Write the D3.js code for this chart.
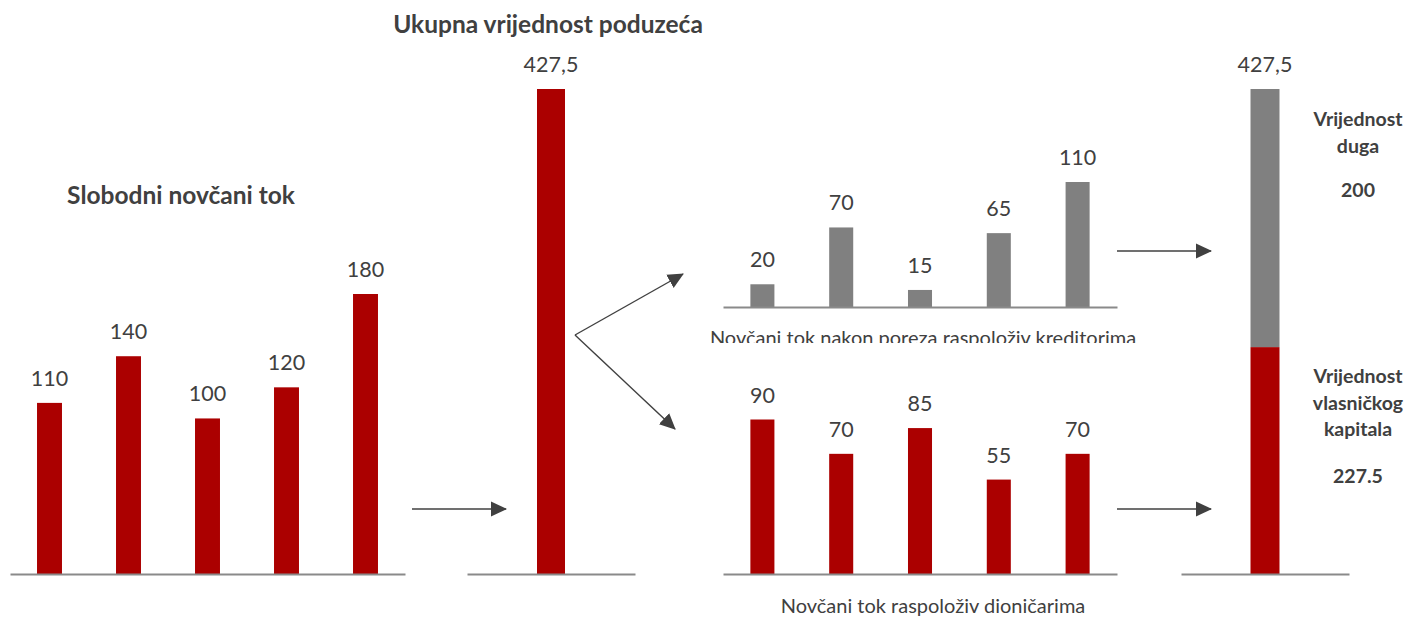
<!DOCTYPE html>
<html>
<head>
<meta charset="utf-8">
<script src="https://cdn.jsdelivr.net/npm/d3@7"></script>
<style>
  body { margin: 0; background: #fff; }
  svg { display: block; font-family: Lato, "Open Sans", sans-serif; }
  .val { font-size: 21.5px; fill: #404040; text-anchor: middle; }
  .title { font-size: 24.5px; font-weight: bold; fill: #404040; text-anchor: middle; }
  .cap { font-size: 20px; fill: #404040; text-anchor: middle; }
  .side { font-size: 19.5px; font-weight: bold; fill: #404040; text-anchor: middle; }
  .axis path { stroke: #8a8a8a; stroke-width: 2; }
</style>
</head>
<body>
<div id="chart"></div>
<script>
// data
const fcfValues = [110, 140, 100, 120, 180];
const firmValue = [427.5];
const firmLabel = ["427,5"];
const creditorFlows = [20, 70, 15, 65, 110];
const equityFlows = [90, 70, 85, 55, 70];
const stackKeys = ["red", "grey"];          // bottom to top, as drawn
const stackRow = [{red: 200, grey: 227.5}];
const stackLabel = "427,5";
const debtText = ["Vrijednost", "duga"];
const debtNumber = "200";
const equityText = ["Vrijednost", "vlasničkog", "kapitala"];
const equityNumber = "227.5";

const RED = "#ab0000", GREY = "#808080", INK = "#404040";

const svg = d3.select("#chart").append("svg")
    .attr("width", 1410)
    .attr("height", 617);

const defs = svg.append("defs");
defs.append("marker")
    .attr("id", "head")
    .attr("viewBox", "0 0 16 16")
    .attr("refX", 15).attr("refY", 8)
    .attr("markerWidth", 16).attr("markerHeight", 16)
    .attr("markerUnits", "userSpaceOnUse")
    .attr("orient", "auto")
  .append("path")
    .attr("d", "M0,0.5L16,8L0,15.5Z")
    .attr("fill", INK);

// one small bar chart: values, x range, baseline, y top for max value
function barPanel(values, labels, x0, x1, base, top, maxV, color, pad, outer) {
    let g = svg.append("g");
    let x = d3.scaleBand().domain(d3.range(values.length)).range([x0, x1])
        .paddingInner(pad).paddingOuter(outer);
    let y = d3.scaleLinear().domain([0, maxV]).range([base, top]);

    g.selectAll("rect").data(values).enter().append("rect")
        .attr("x", (d, i) => x(i))
        .attr("y", d => y(d))
        .attr("width", x.bandwidth())
        .attr("height", d => base - y(d))
        .attr("fill", color);

    g.selectAll("text.val").data(values).enter().append("text")
        .attr("class", "val")
        .attr("x", (d, i) => x(i) + x.bandwidth() / 2)
        .attr("y", d => y(d) - 17)
        .text((d, i) => labels ? labels[i] : d);

    g.append("g").attr("class", "axis")
        .attr("transform", "translate(0," + base + ")")
        .call(d3.axisBottom(x).tickSize(0).tickSizeOuter(0).tickFormat(""));
    return {x, y, g};
}

// Slobodni novčani tok
barPanel(fcfValues, null, 10, 405, 574, 294, 180, RED, 0.684, 0.342);
svg.append("text").attr("class", "title").attr("x", 181).attr("y", 204).text("Slobodni novčani tok");

// Ukupna vrijednost poduzeća
barPanel(firmValue, firmLabel, 467, 635, 574, 89, 427.5, RED, 0, 2.5);
svg.append("text").attr("class", "title").attr("x", 548).attr("y", 33).text("Ukupna vrijednost poduzeća");

// creditors
barPanel(creditorFlows, null, 723, 1117, 307, 182, 110, GREY, 0.695, 0.3475);
defs.append("clipPath").attr("id", "capclip")
  .append("rect").attr("x", 600).attr("y", 300).attr("width", 700).attr("height", 43);
svg.append("text").attr("class", "cap").attr("x", 923).attr("y", 345)
    .attr("clip-path", "url(#capclip)")
    .text("Novčani tok nakon poreza raspoloživ kreditorima");

// shareholders
barPanel(equityFlows, null, 723, 1117, 574, 419.5, 90, RED, 0.695, 0.3475);
svg.append("text").attr("class", "cap").attr("x", 933).attr("y", 613)
    .text("Novčani tok raspoloživ dioničarima");

// stacked value bar
let sx = d3.scaleBand().domain([0]).range([1181, 1349]).paddingOuter(2.397);
let sy = d3.scaleLinear().domain([0, 427.5]).range([574, 89]);
let series = d3.stack().keys(stackKeys)(stackRow);
let sg = svg.append("g");
sg.selectAll("rect").data(series).enter().append("rect")
    .attr("x", sx(0))
    .attr("width", sx.bandwidth())
    .attr("y", s => sy(s[0][1]))
    .attr("height", s => sy(s[0][0]) - sy(s[0][1]))
    .attr("fill", s => s.key == "red" ? RED : GREY);
sg.append("text").attr("class", "val")
    .attr("x", sx(0) + sx.bandwidth() / 2)
    .attr("y", sy(d3.sum(stackKeys, k => stackRow[0][k])) - 17)
    .text(stackLabel);
sg.append("g").attr("class", "axis")
    .attr("transform", "translate(0,574)")
    .call(d3.axisBottom(sx).tickSize(0).tickSizeOuter(0).tickFormat(""));

// side notes
function sideNote(lines, number, yFirst, yNumber) {
    lines.forEach((t, i) => {
        svg.append("text").attr("class", "side")
            .attr("x", 1358).attr("y", yFirst + i * 26.5).text(t);
    });
    svg.append("text").attr("class", "side")
        .attr("x", 1358).attr("y", yNumber).text(number);
}
sideNote(debtText, debtNumber, 126, 197);
sideNote(equityText, equityNumber, 383, 483);

// arrows
const arrows = [
    [[412, 509], [506, 509]],
    [[575, 335], [683, 274]],
    [[575, 335], [675, 429]],
    [[1117, 251], [1211, 251]],
    [[1117, 509], [1211, 509]]
];
svg.selectAll("line.arrow").data(arrows).enter().append("line")
    .attr("class", "arrow")
    .attr("x1", d => d[0][0]).attr("y1", d => d[0][1])
    .attr("x2", d => d[1][0]).attr("y2", d => d[1][1])
    .attr("stroke", INK)
    .attr("stroke-width", 1.4)
    .attr("marker-end", "url(#head)");
</script>
</body>
</html>
